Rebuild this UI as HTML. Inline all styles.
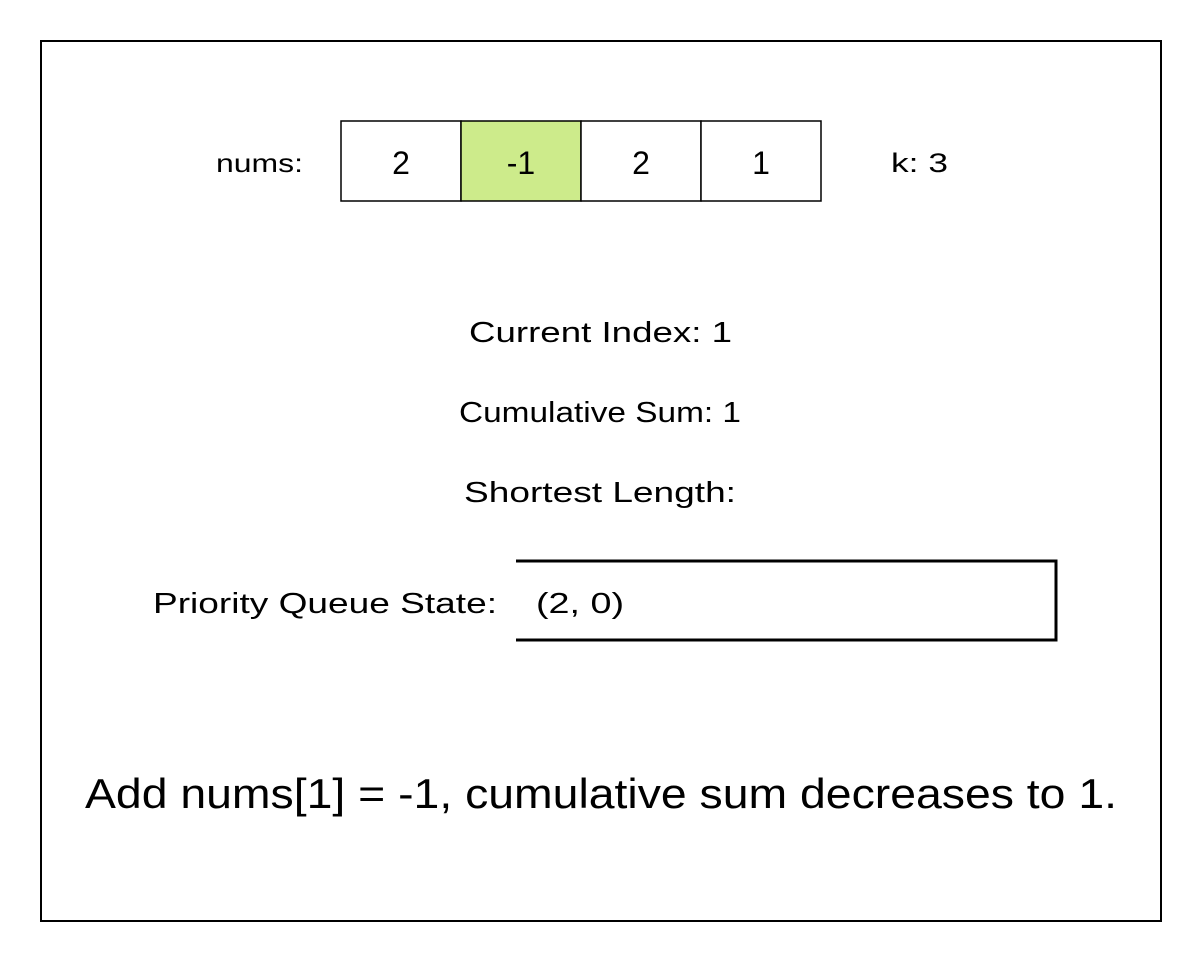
<!DOCTYPE html>
<html><head><style>body{margin:0;background:#fff}svg text{font-family:"Comic Sans MS","Liberation Sans",sans-serif;fill:#000}</style></head>
<body>
<svg width="1202" height="962" xmlns="http://www.w3.org/2000/svg">
<rect x="41" y="41" width="1120" height="880" fill="#fff" stroke="#000" stroke-width="2"/>
<text x="216" y="172" font-size="26" textLength="87" lengthAdjust="spacingAndGlyphs">nums:</text>
<rect x="341" y="121" width="120" height="80" fill="#fff" stroke="#000" stroke-width="1.5"/>
<rect x="461" y="121" width="120" height="80" fill="#cdeb8b" stroke="#000" stroke-width="1.5"/>
<rect x="581" y="121" width="120" height="80" fill="#fff" stroke="#000" stroke-width="1.5"/>
<rect x="701" y="121" width="120" height="80" fill="#fff" stroke="#000" stroke-width="1.5"/>
<text x="401" y="174" font-size="32" text-anchor="middle">2</text>
<text x="521" y="174" font-size="32" text-anchor="middle">-1</text>
<text x="641" y="174" font-size="32" text-anchor="middle">2</text>
<text x="761" y="174" font-size="32" text-anchor="middle">1</text>
<text x="891" y="172" font-size="27" textLength="57" lengthAdjust="spacingAndGlyphs">k: 3</text>
<text x="469" y="342" font-size="29" textLength="263" lengthAdjust="spacingAndGlyphs">Current Index: 1</text>
<text x="459" y="422" font-size="29" textLength="282" lengthAdjust="spacingAndGlyphs">Cumulative Sum: 1</text>
<text x="464" y="502" font-size="29" textLength="272" lengthAdjust="spacingAndGlyphs">Shortest Length:</text>
<text x="153" y="613" font-size="29" textLength="344" lengthAdjust="spacingAndGlyphs">Priority Queue State:</text>
<polyline points="516,561 1056,561 1056,640 516,640" fill="none" stroke="#000" stroke-width="3"/>
<text x="536" y="613" font-size="29" textLength="88" lengthAdjust="spacingAndGlyphs">(2, 0)</text>
<text x="85" y="808" font-size="42" textLength="1032" lengthAdjust="spacingAndGlyphs">Add nums[1] = -1, cumulative sum decreases to 1.</text>
</svg>
</body></html>
